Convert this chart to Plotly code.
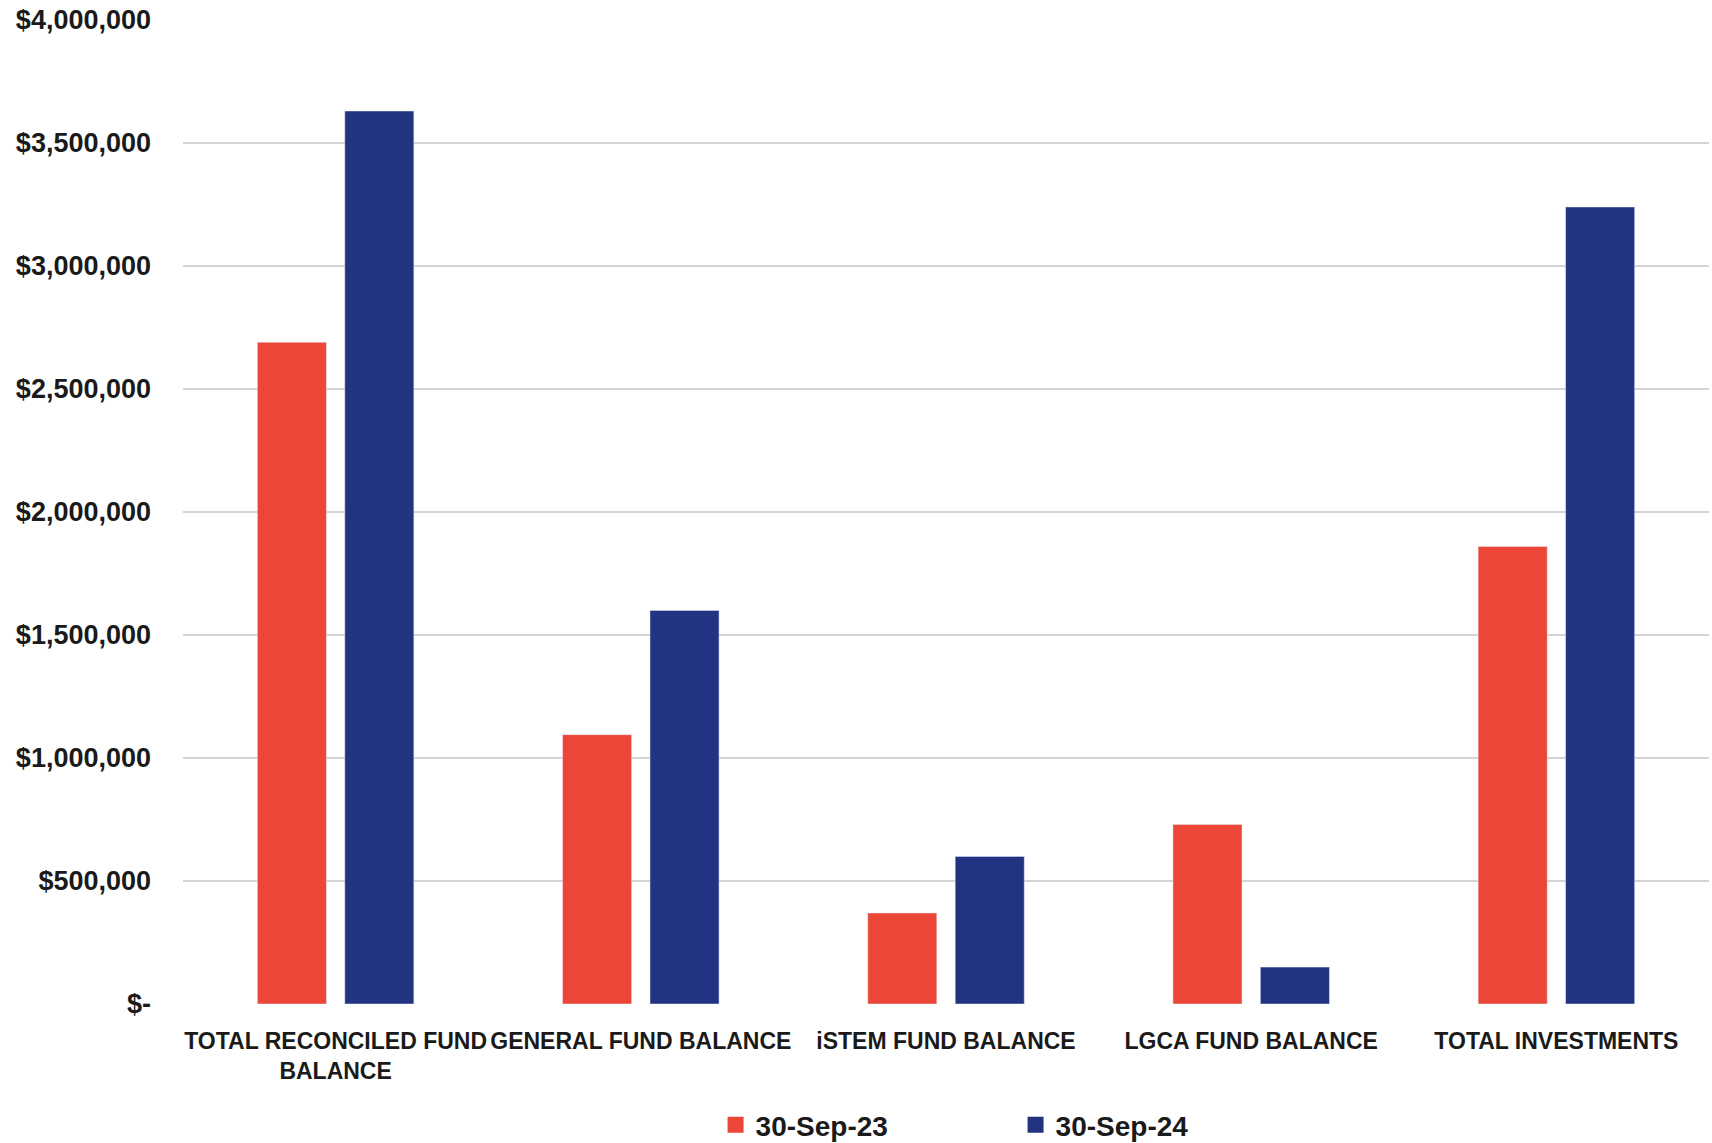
import plotly.graph_objects as go

categories = [
    "TOTAL RECONCILED FUND<br>BALANCE",
    "GENERAL FUND BALANCE",
    "iSTEM FUND BALANCE",
    "LGCA FUND BALANCE",
    "TOTAL INVESTMENTS",
]
sep23 = [2690000, 1095000, 370000, 730000, 1860000]
sep24 = [3630000, 1600000, 600000, 150000, 3240000]
series_names = ["30-Sep-23", "30-Sep-24"]
tick_vals = [0, 500000, 1000000, 1500000, 2000000, 2500000, 3000000, 3500000, 4000000]
tick_text = ["$-", "$500,000", "$1,000,000", "$1,500,000", "$2,000,000",
             "$2,500,000", "$3,000,000", "$3,500,000", "$4,000,000"]

RED = "#EB4638"
BLUE = "#213381"
FONT = "Liberation Sans"
TXT = "#1a1a1a"
colors = [RED, BLUE]

fig = go.Figure()
for name, vals, col in zip(series_names, [sep23, sep24], colors):
    fig.add_trace(go.Bar(x=categories, y=vals, name=name, marker_color=col,
                         showlegend=False, legendgroup=name))
# legend entries with larger square swatches
for name, col in zip(series_names, colors):
    fig.add_trace(go.Scatter(x=[None], y=[None], mode="markers", name=name,
                             legendgroup=name,
                             marker=dict(symbol="square", size=17, color=col)))

fig.update_layout(
    width=1712, height=1143,
    margin=dict(l=183, r=3, t=20, b=139, autoexpand=False),
    paper_bgcolor="white", plot_bgcolor="white",
    barmode="group", bargap=0.427, bargroupgap=0.21,
    font=dict(family=FONT, color=TXT),
    showlegend=True,
    legend=dict(orientation="h", x=0.349, xanchor="left", y=-0.123, yanchor="middle",
                entrywidth=255, itemsizing="trace",
                font=dict(family=FONT, size=28, weight="bold", color=TXT)),
)
fig.update_yaxes(range=[0, 4000000], tickvals=tick_vals, ticktext=tick_text,
                 showgrid=True, gridcolor="#d4d4d4", gridwidth=2, zeroline=False,
                 showline=False, ticklabelstandoff=31, automargin=False,
                 tickfont=dict(family=FONT, size=27, weight="bold", color=TXT))
fig.update_xaxes(showline=False, showgrid=False, ticklabelstandoff=21, tickangle=0,
                 automargin=False,
                 tickfont=dict(family=FONT, size=23, weight="bold", color=TXT))

fig.write_html("out.html")
